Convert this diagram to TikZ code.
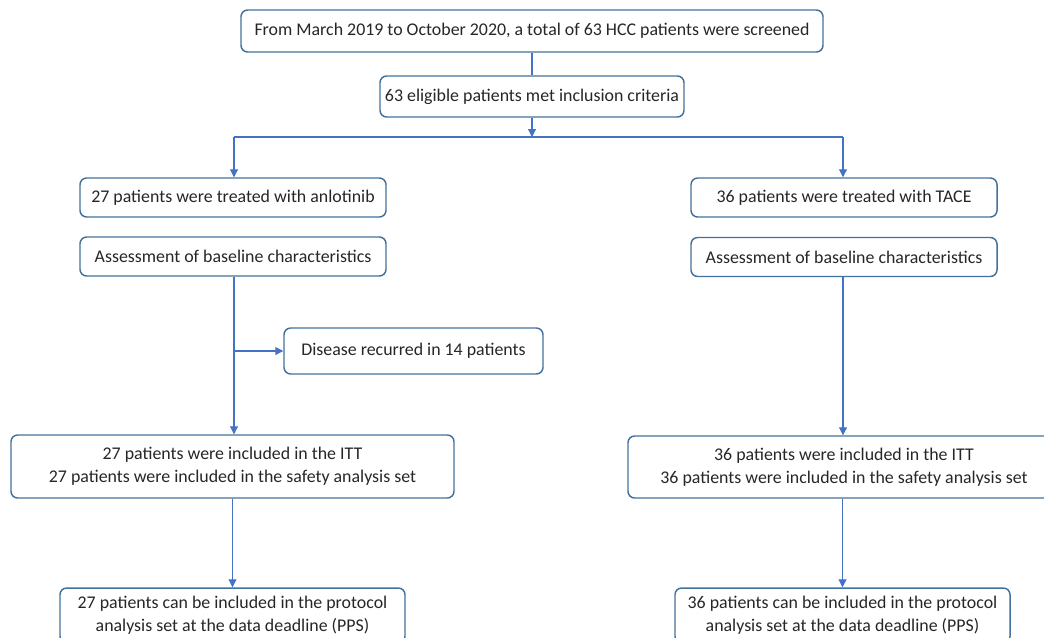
\documentclass[tikz,border=0pt]{standalone}
\usepackage{fontspec}
\setmainfont{Carlito}
\usetikzlibrary{arrows.meta, positioning}

\definecolor{boxblue}{HTML}{41719C}
\definecolor{linkblue}{HTML}{4472C4}

\tikzset{
  flowbox/.style={draw=boxblue, line width=1.1pt, rounded corners=5pt,
    align=center, inner sep=0pt, text=black!85,
    font=\fontsize{13.4}{17.25}\selectfont},
  line/.style={draw=linkblue, line width=0.8pt},
  link/.style={line, -{Triangle[length=6pt, width=6pt]}},
}

\begin{document}
\begin{tikzpicture}[x=0.75pt, y=-0.75pt]
    \clip (0,0) rectangle (1044,637);

    % top of the flow
    \node[flowbox, minimum width=436.5pt, minimum height=31.5pt] (screen) at (532,31)
      {From March 2019 to October 2020, a total of 63 HCC patients were screened};
    \node[flowbox, minimum width=228pt, minimum height=30.75pt] (elig) at (532,96.5)
      {63 eligible patients met inclusion criteria};

    \coordinate (split) at (532,137);
    \coordinate (splitL) at (234,137);
    \coordinate (splitR) at (843,137);

    % anlotinib arm
    \node[flowbox, minimum width=229.5pt, minimum height=29.25pt] (treatL) at (233,197.5)
      {27 patients were treated with anlotinib};
    \node[flowbox, minimum width=229.5pt, minimum height=29.25pt] (assessL) at (233,256.5)
      {Assessment of baseline characteristics};
    \node[flowbox, minimum width=194.25pt, minimum height=34.5pt] (recur) at (413.5,351)
      {Disease recurred in 14 patients};
    \node[flowbox, minimum width=332.25pt, minimum height=47.25pt] (ittL) at (232.5,466.5)
      {27 patients were included in the ITT\\27 patients were included in the safety analysis set};
    \node[flowbox, minimum width=258.75pt, minimum height=41.25pt] (ppsL) at (232.5,615.5)
      {27 patients can be included in the protocol\\analysis set at the data deadline (PPS)};

    % TACE arm
    \node[flowbox, minimum width=229.5pt, minimum height=29.25pt] (treatR) at (844,197.5)
      {36 patients were treated with TACE};
    \node[flowbox, minimum width=229.5pt, minimum height=29.25pt] (assessR) at (844,257)
      {Assessment of baseline characteristics};
    \node[flowbox, minimum width=324pt, minimum height=46.5pt] (ittR) at (844,467)
      {36 patients were included in the ITT\\36 patients were included in the safety analysis set};
    \node[flowbox, minimum width=251.25pt, minimum height=41.25pt] (ppsR) at (842.5,615.5)
      {36 patients can be included in the protocol\\analysis set at the data deadline (PPS)};

    % connectors
    \draw[line] (screen) -- (elig);
    \draw[link] (elig) -- (split);
    \draw[line] (splitL) -- (splitR);
    \draw[link] (splitL) -- (splitL |- treatL.north);
    \draw[link] (splitR) -- (splitR |- treatR.north);
    \draw[link] (splitL |- assessL.south) -- (splitL |- ittL.north);
    \draw[link] (splitL |- recur.west) -- (recur.west);
    \draw[link] (splitR |- assessR.south) -- (splitR |- ittR.north);
    \draw[link] (ittL.south -| ppsL) -- (ppsL);
    \draw[link] (ittR.south -| ppsR) -- (ppsR);
\end{tikzpicture}
\end{document}
